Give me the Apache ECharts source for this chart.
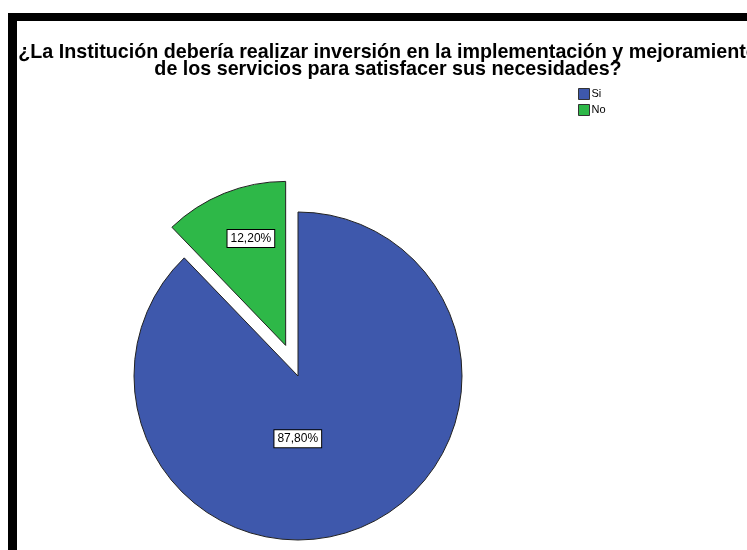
<!DOCTYPE html>
<html>
<head>
<meta charset="utf-8">
<script src="https://cdn.jsdelivr.net/npm/echarts@6/dist/echarts.min.js"></script>
<style>
html,body{margin:0;padding:0;background:#fff;}
#chart{width:747px;height:550px;}
</style>
</head>
<body>
<div id="chart"></div>
<script>
const titleLines = [
  "¿La Institución debería realizar inversión en la implementación y mejoramiento",
  "de los servicios para satisfacer sus necesidades?"
];
const categories = ["Si", "No"];
const percentValues = [87.8, 12.2];
const colors = ["#3E58AC", "#2EB848"];
const explodedCategory = "No";

const chart = echarts.init(document.getElementById('chart'), null, {renderer: 'canvas'});

const fmt = v => v.toFixed(2).replace('.', ',') + '%';

const option = {
  animation: false,
  backgroundColor: '#fff',
  title: {
    text: titleLines.join('\n'),
    left: 383,
    top: 39,
    textAlign: 'center',
    textStyle: {
      fontFamily: 'Liberation Sans, Arial, sans-serif',
      fontWeight: 'bold',
      fontSize: 19.7,
      lineHeight: 17,
      color: '#000'
    }
  },
  legend: {
    orient: 'vertical',
    left: 573,
    top: 83,
    itemWidth: 11,
    itemHeight: 11,
    itemGap: 4,
    icon: 'rect',
    selectedMode: false,
    data: categories,
    textStyle: {
      fontFamily: 'Liberation Sans, Arial, sans-serif',
      fontSize: 11,
      color: '#000',
      padding: [0, 0, 0, -3]
    },
    itemStyle: {borderColor: '#333', borderWidth: 1}
  },
  graphic: [
    {type: 'rect', shape: {x: 8, y: 13, width: 9, height: 537}, style: {fill: '#000'}, z: 100},
    {type: 'rect', shape: {x: 8, y: 13, width: 739, height: 8}, style: {fill: '#000'}, z: 100}
  ],
  series: [{
    type: 'pie',
    center: [298, 376],
    radius: 164,
    startAngle: 90,
    clockwise: true,
    selectedMode: 'multiple',
    selectedOffset: 33,
    avoidLabelOverlap: false,
    emphasis: {disabled: true},
    itemStyle: {borderColor: '#222', borderWidth: 1},
    label: {
      show: true,
      position: 'inside',
      formatter: p => fmt(p.value),
      fontFamily: 'Liberation Sans, Arial, sans-serif',
      fontSize: 12,
      color: '#000',
      backgroundColor: '#fff',
      borderColor: '#000',
      borderWidth: 1,
      padding: [3, 3, 2, 3]
    },
    labelLine: {show: false},
    labelLayout: function (params) {
      if (params.dataIndex === 0) return {dx: -32, dy: -16};
      return {dx: -3, dy: -28};
    },
    data: categories.map((c, i) => ({
      name: c,
      value: percentValues[i],
      selected: c === explodedCategory,
      itemStyle: {color: colors[i]}
    }))
  }]
};
chart.setOption(option);
</script>
</body>
</html>
